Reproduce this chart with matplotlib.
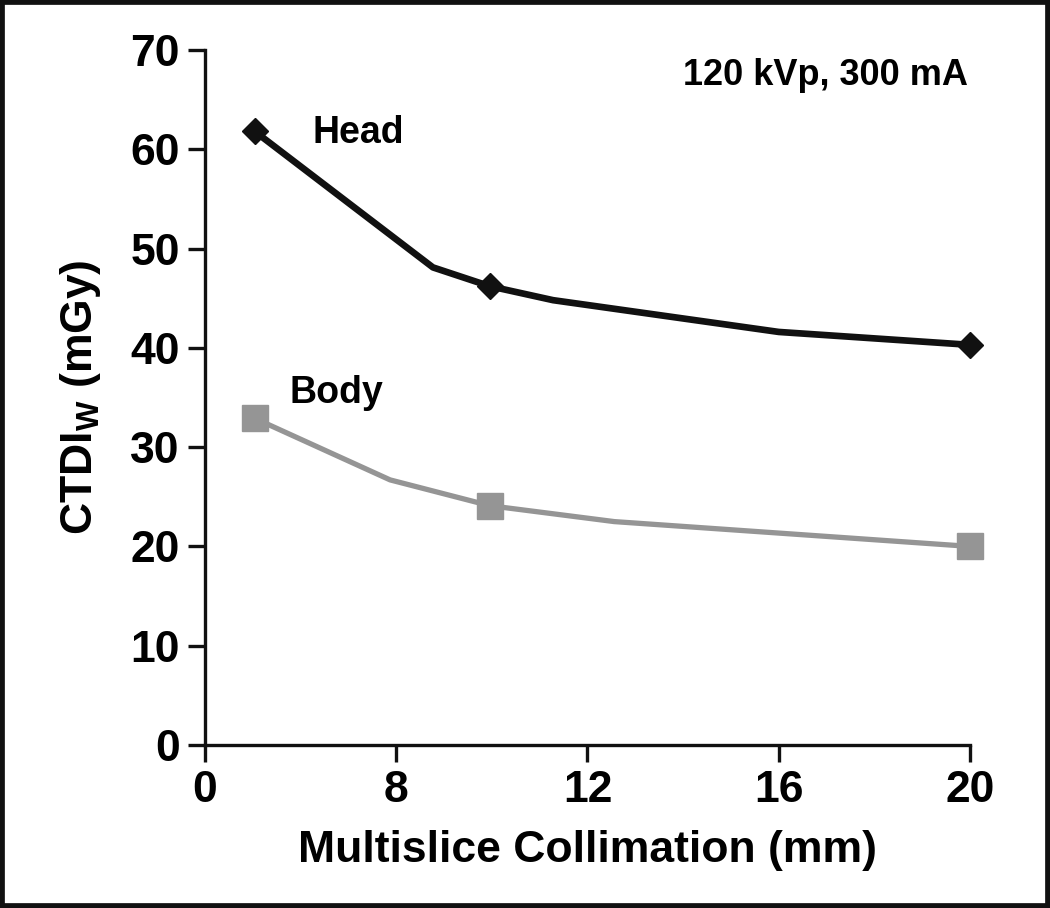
import numpy as np
import matplotlib
matplotlib.use("Agg")
import matplotlib.pyplot as plt
from matplotlib.patches import Rectangle

# data (x in axis units, ticks are relabelled)
head_x = [1.3, 7.45, 20]
head_y = [61.8, 46.2, 40.3]
body_x = [1.3, 7.45, 20]
body_y = [32.9, 24.1, 20.0]

# the drawn curves bend between the measured points
head_line_x = [1.3, 5.96, 7.45, 9.1, 15.0, 20]
head_line_y = [61.8, 48.1, 46.2, 44.8, 41.6, 40.3]
body_line_x = [1.3, 4.84, 7.45, 10.7, 20]
body_line_y = [32.9, 26.7, 24.1, 22.5, 20.0]

xtick_pos = [0, 5, 10, 15, 20]
xtick_labels = ["0", "8", "12", "16", "20"]
yticks = [0, 10, 20, 30, 40, 50, 60, 70]

plt.rcParams['font.family'] = ['Liberation Sans', 'DejaVu Sans']
plt.rcParams['font.weight'] = 'bold'
plt.rcParams['mathtext.fontset'] = 'custom'
plt.rcParams['mathtext.rm'] = 'Liberation Sans'
plt.rcParams['mathtext.it'] = 'Liberation Sans'

fig = plt.figure(figsize=(10.5, 9.08), dpi=100)
ax = fig.add_axes([0.1952, 0.1795, 0.7286, 0.7655])

# lines
ax.plot(head_line_x, head_line_y, color="#111111", lw=4.8, solid_capstyle="butt",
        solid_joinstyle="round", zorder=2)
ax.plot(body_line_x, body_line_y, color="#959595", lw=3.8, solid_capstyle="butt",
        solid_joinstyle="round", zorder=2)
ax.plot(head_x, head_y, "D", color="#111111", ms=13.5, zorder=3, clip_on=False)
ax.plot(body_x, body_y, "s", color="#959595", ms=19, zorder=3, clip_on=False)

ax.text(2.8, 61.6, "Head", fontsize=27, fontweight="bold", va="center")
ax.text(2.2, 35.5, "Body", fontsize=27, fontweight="bold", va="center")
ax.text(19.95, 67.4, "120 kVp, 300 mA", fontsize=26, fontweight="bold",
        ha="right", va="center")

ax.set_xlim(0, 20)
ax.set_ylim(0, 70)
ax.set_xticks(xtick_pos)
ax.set_xticklabels(xtick_labels)
ax.set_yticks(yticks)

for s in ["top", "right"]:
    ax.spines[s].set_visible(False)
for s in ["left", "bottom"]:
    ax.spines[s].set_linewidth(2.4)
    ax.spines[s].set_color("#111111")

ax.tick_params(axis="both", direction="out", length=12, width=2.4, color="#111111",
               labelsize=32, pad=6)
for lab in ax.get_xticklabels() + ax.get_yticklabels():
    lab.set_fontweight("bold")

ax.set_xlabel("Multislice Collimation (mm)", fontsize=32, fontweight="bold", labelpad=14)
ax.set_ylabel(r"CTDI$_{\mathrm{W}}$ (mGy)", fontsize=32, fontweight="bold", labelpad=20)

# black frame around the whole picture
fig.patches.append(Rectangle((0, 0), 1, 1, transform=fig.transFigure, fill=False,
                             edgecolor="#111111", lw=7, zorder=10))

fig.savefig("out.png", dpi=100)
